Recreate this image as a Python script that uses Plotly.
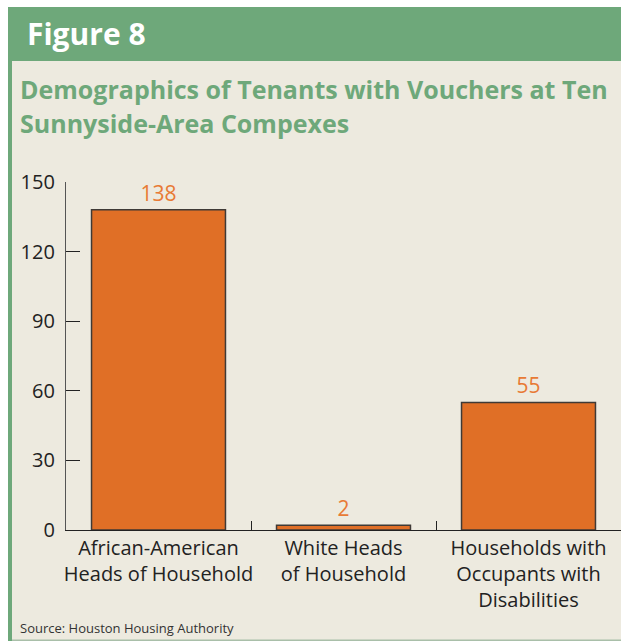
import plotly.graph_objects as go

categories = ["African-American<br>Heads of Household", "White Heads<br>of Household", "Households with<br>Occupants with<br>Disabilities"]
values = [138, 2, 55]
y_ticks = [0, 30, 60, 90, 120, 150]

W, H = 621, 642
L, R, T, B = 66, 0, 182, 112
PW, PH = W - L - R, H - T - B

def px(x):
    return (x - L) / PW

def py(y):
    return (H - B - y) / PH

GREEN = "#6EA87A"
BEIGE = "#EDEADF"
ORANGE = "#E06F26"
FONT = "Open Sans"

fig = go.Figure(go.Bar(
    x=categories, y=values,
    marker=dict(color=ORANGE, line=dict(color="#3f3a36", width=1.5)),
    text=[str(v) for v in values], textposition="outside",
    textfont=dict(color="#E87A35", size=21, family=FONT),
    cliponaxis=False,
))

shapes = [
    dict(type="rect", xref="paper", yref="paper", x0=px(12), x1=px(621), y0=py(61), y1=py(640),
         fillcolor=BEIGE, line=dict(width=0), layer="below"),
    dict(type="rect", xref="paper", yref="paper", x0=px(8), x1=px(621), y0=py(7), y1=py(61),
         fillcolor=GREEN, line=dict(width=0), layer="below"),
    dict(type="rect", xref="paper", yref="paper", x0=px(8), x1=px(12), y0=py(61), y1=py(641),
         fillcolor=GREEN, line=dict(width=0), layer="below"),
    dict(type="rect", xref="paper", yref="paper", x0=px(12), x1=px(621), y0=py(639.5), y1=py(641),
         fillcolor="#A9BFA9", line=dict(width=0), layer="below"),
]

annotations = [
    dict(text="<b>Figure 8</b>", xref="paper", yref="paper", x=px(25), y=py(33),
         xanchor="left", yanchor="middle", showarrow=False,
         font=dict(family=FONT, size=30, color="white")),
    dict(text="<b>Demographics of Tenants with Vouchers at Ten</b>", xref="paper", yref="paper",
         x=px(18), y=py(89), xanchor="left", yanchor="middle", showarrow=False,
         font=dict(family=FONT, size=25, color=GREEN)),
    dict(text="<b>Sunnyside-Area Compexes</b>", xref="paper", yref="paper",
         x=px(18), y=py(123), xanchor="left", yanchor="middle", showarrow=False,
         font=dict(family=FONT, size=25, color=GREEN)),
    dict(text="Source: Houston Housing Authority", xref="paper", yref="paper",
         x=px(18), y=py(628), xanchor="left", yanchor="middle", showarrow=False,
         font=dict(family=FONT, size=13, color="#333333")),
]

fig.update_layout(
    width=W, height=H,
    margin=dict(l=L, r=R, t=T, b=B, pad=0, autoexpand=False),
    paper_bgcolor="white", plot_bgcolor=BEIGE,
    bargap=0.276,
    showlegend=False,
    shapes=shapes, annotations=annotations,
    font=dict(family=FONT, color="#222222"),
)
fig.update_xaxes(
    type="category", range=[-0.5, 2.5],
    showline=True, linecolor="#222222", linewidth=1.3,
    ticks="inside", tickson="boundaries", ticklen=9, tickcolor="#222222", tickwidth=1,
    tickfont=dict(size=20, color="#222222", family=FONT),
    tickangle=0, automargin=False,
    showgrid=False, zeroline=False,
)
fig.update_yaxes(
    range=[0, 150], tickvals=y_ticks, ticktext=[str(v) for v in y_ticks],
    showline=True, linecolor="#555555", linewidth=1.3,
    ticks="inside", ticklen=14, tickcolor="#222222", tickwidth=1,
    tickfont=dict(size=20, color="#222222", family=FONT),
    ticklabelstandoff=6, automargin=False,
    showgrid=False, zeroline=False,
)

fig.write_html("out.html", config={"displayModeBar": False},
               post_script="document.body.style.margin='0';document.body.style.padding='0';")
